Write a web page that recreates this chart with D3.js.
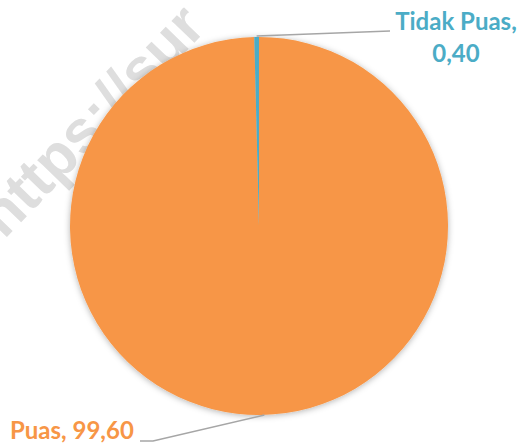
<!DOCTYPE html>
<html>
<head>
<meta charset="utf-8">
<script src="https://cdn.jsdelivr.net/npm/d3@7"></script>
<style>
  body { margin: 0; background: #fff; }
  svg { display: block; }
</style>
</head>
<body>
<svg width="522" height="445"></svg>
<script>
// data
var labels = ["Puas", "Tidak Puas"];
var values = [99.60, 0.40];
var colors = ["#F79646", "#4BACC6"];

var svg = d3.select("svg");
var cx = 259, cy = 226, r = 189;

var defs = svg.append("defs");
var f = defs.append("filter").attr("id", "shadow")
    .attr("x", "-10%").attr("y", "-10%").attr("width", "120%").attr("height", "120%");
f.append("feDropShadow").attr("dx", 0).attr("dy", 1).attr("stdDeviation", 3)
    .attr("flood-color", "#000").attr("flood-opacity", 0.3);

// watermark
svg.append("text")
    .attr("transform", "translate(4,240) rotate(-46)")
    .style("font-family", "Liberation Sans, Arial, sans-serif")
    .style("font-weight", "bold").style("font-size", "60px")
    .style("fill", "#dedede")
    .text("https://sur");

var data = labels.map(function (d, i) { return { label: d, value: values[i] }; });

var pie = d3.pie().sort(null).value(function (d) { return d.value; });
var arc = d3.arc().innerRadius(0).outerRadius(r);

var g = svg.append("g").attr("transform", "translate(" + cx + "," + cy + ")");
g.append("g").attr("filter", "url(#shadow)")
    .selectAll("path").data(pie(data)).enter().append("path")
    .attr("d", arc)
    .style("fill", function (d, i) { return colors[i]; });

function fmt(v) { return v.toFixed(2).replace(".", ","); }

var arcs = pie(data);
var lineColor = "#a6a6a6";
var font = "Lato, 'Open Sans', sans-serif";

// leader lines from the slice edges
function edgePoint(d) {
    var a = (d.startAngle + d.endAngle) / 2;
    return [cx + Math.sin(a) * r, cy - Math.cos(a) * r];
}

var p0 = edgePoint(arcs[0]);   // Puas: bottom
var p1 = edgePoint(arcs[1]);   // Tidak Puas: top

svg.append("polyline")
    .attr("points", [[140, 441], [153, 441], [p0[0] + 3, p0[1]]].join(" "))
    .style("fill", "none").style("stroke", lineColor).style("stroke-width", 1.5);

svg.append("line")
    .attr("x1", p1[0]).attr("y1", p1[1] - 1).attr("x2", 390).attr("y2", 31)
    .style("stroke", lineColor).style("stroke-width", 1.5);

// labels
svg.append("text")
    .attr("x", 10).attr("y", 439)
    .style("font-family", font).style("font-weight", "bold").style("font-size", "24px")
    .style("fill", colors[0])
    .text(data[0].label + ", " + fmt(data[0].value));

var t = svg.append("text")
    .attr("text-anchor", "middle")
    .style("font-family", font).style("font-weight", "bold").style("font-size", "24px")
    .style("fill", colors[1]);
t.append("tspan").attr("x", 456).attr("y", 30).text(data[1].label + ",");
t.append("tspan").attr("x", 456).attr("y", 62).text(fmt(data[1].value));
</script>
</body>
</html>
